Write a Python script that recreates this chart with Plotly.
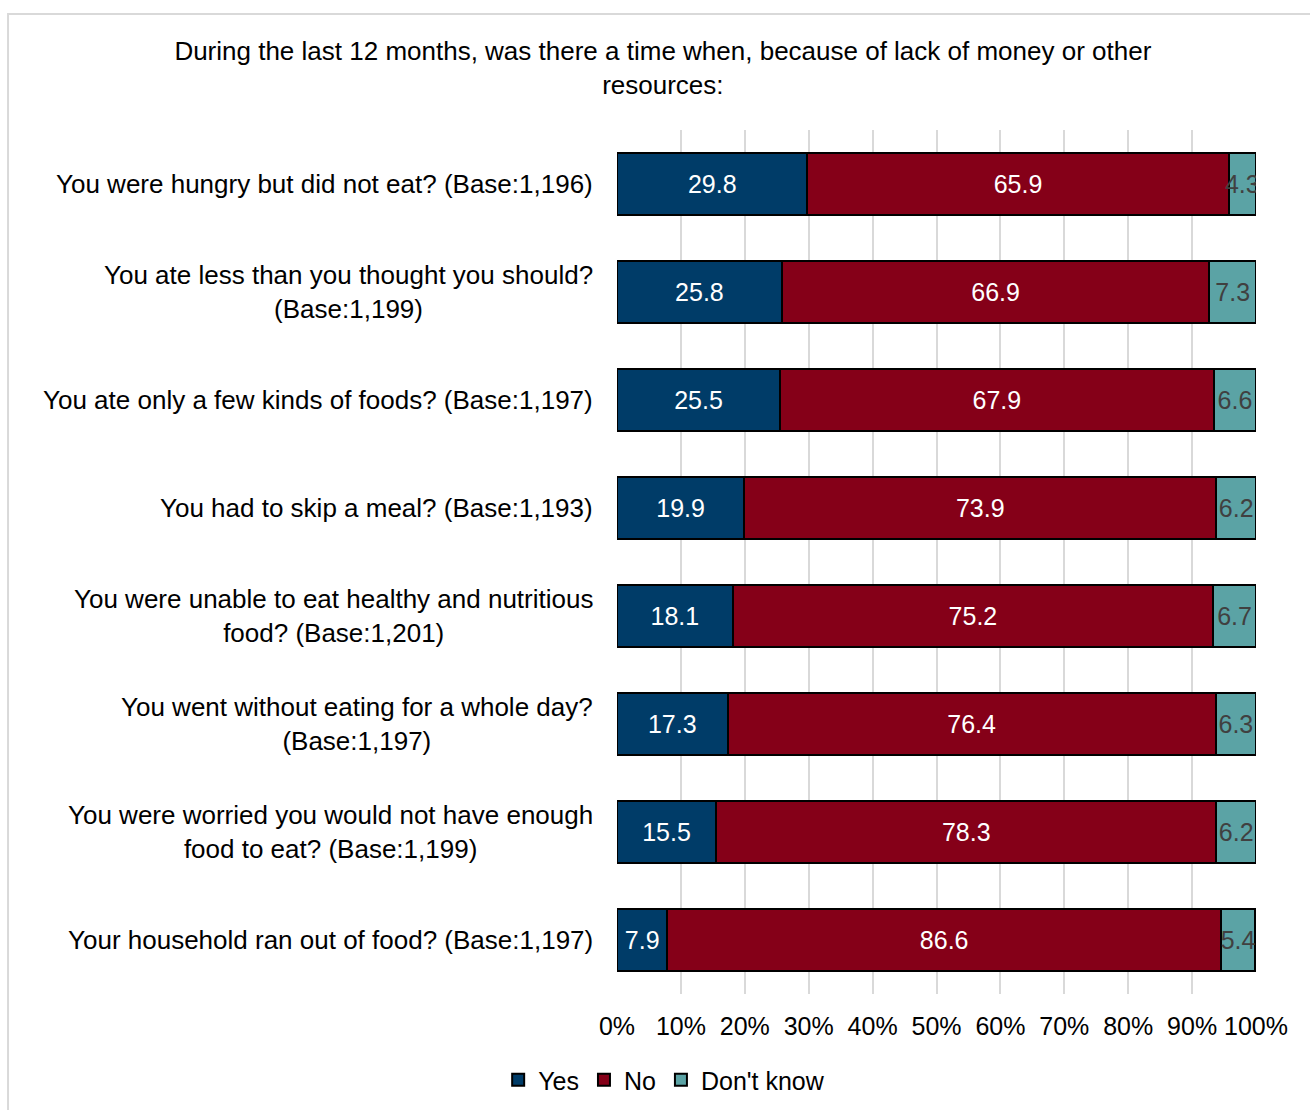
import plotly.graph_objects as go

# Survey items (top to bottom) and response shares in percent
questions = [
    "You were hungry but did not eat? (Base:1,196)",
    "You ate less than you thought you should?<br>(Base:1,199)",
    "You ate only a few kinds of foods? (Base:1,197)",
    "You had to skip a meal? (Base:1,193)",
    "You were unable to eat healthy and nutritious<br>food? (Base:1,201)",
    "You went without eating for a whole day?<br>(Base:1,197)",
    "You were worried you would not have enough<br>food to eat? (Base:1,199)",
    "Your household ran out of food? (Base:1,197)",
]
yes = [29.8, 25.8, 25.5, 19.9, 18.1, 17.3, 15.5, 7.9]
no = [65.9, 66.9, 67.9, 73.9, 75.2, 76.4, 78.3, 86.6]
dont_know = [4.3, 7.3, 6.6, 6.2, 6.7, 6.3, 6.2, 5.4]

tick_values = [0, 10, 20, 30, 40, 50, 60, 70, 80, 90, 100]
tick_labels = ["0%", "10%", "20%", "30%", "40%", "50%", "60%", "70%", "80%", "90%", "100%"]

title_text = ("During the last 12 months, was there a time when, because of lack of money or other"
              "<br>resources:")

FONT = "Liberation Sans, Arial, sans-serif"
FS = 25        # axis ticks, bar values, legend
FS_LABEL = 26  # title and category labels

ids = list(range(len(questions)))

series = [
    ("Yes", yes, "#003C68", "white"),
    ("No", no, "#850018", "white"),
    ("Don't know", dont_know, "#5BA3A5", "#404040"),
]

fig = go.Figure()
for name, vals, color, tcolor in series:
    fig.add_trace(go.Bar(
        name=name,
        y=ids,
        x=vals,
        orientation="h",
        marker=dict(color=color, line=dict(color="black", width=2)),
        text=[f"{v:.1f}" for v in vals],
        textposition="inside",
        insidetextanchor="middle",
        textangle=0,
        constraintext="none",
        textfont=dict(family=FONT, size=FS, color=tcolor),
        hoverinfo="skip",
    ))

# Category labels, centred line by line and right-aligned against the axis
for i, q in enumerate(questions):
    fig.add_annotation(
        x=0, xref="paper", y=i, yref="y",
        text=q, showarrow=False,
        xanchor="right", yanchor="middle", align="center",
        xshift=-22,
        font=dict(family=FONT, size=FS_LABEL, color="black"),
    )

# Outer chart frame
fig.add_shape(
    type="rect", xref="paper", yref="paper",
    x0=-0.953, x1=1.3, y0=-0.3, y1=1.1343,
    line=dict(color="#d9d9d9", width=2), fillcolor="rgba(0,0,0,0)",
    layer="below",
)

fig.update_layout(
    width=1310, height=1110,
    margin=dict(l=617, r=54, t=130, b=116, autoexpand=False),
    barmode="stack",
    bargap=0.426,
    paper_bgcolor="white",
    plot_bgcolor="white",
    font=dict(family=FONT, size=FS, color="black"),
    title=dict(
        text=title_text,
        x=0.506, xref="container", xanchor="center",
        y=1 - 60 / 1110, yref="container", yanchor="top",
        font=dict(family=FONT, size=FS_LABEL, color="black"),
    ),
    xaxis=dict(
        range=[0, 100],
        tickvals=tick_values,
        ticktext=tick_labels,
        showgrid=True,
        gridcolor="#d9d9d9",
        gridwidth=2,
        zeroline=False,
        showline=False,
        ticks="",
        ticklabelstandoff=15,
        tickfont=dict(family=FONT, size=FS, color="black"),
        fixedrange=True,
    ),
    yaxis=dict(
        range=[len(questions) - 0.5, -0.5],
        showticklabels=False,
        showgrid=False,
        zeroline=False,
        ticks="",
        fixedrange=True,
    ),
    legend=dict(
        orientation="h",
        xref="container", x=0.507, xanchor="center",
        yref="container", y=1 - 1080 / 1110, yanchor="middle",
        font=dict(family=FONT, size=FS, color="black"),
        itemwidth=30,
        traceorder="normal",
        bgcolor="rgba(0,0,0,0)",
    ),
    showlegend=True,
)

fig.write_html("out.html")
